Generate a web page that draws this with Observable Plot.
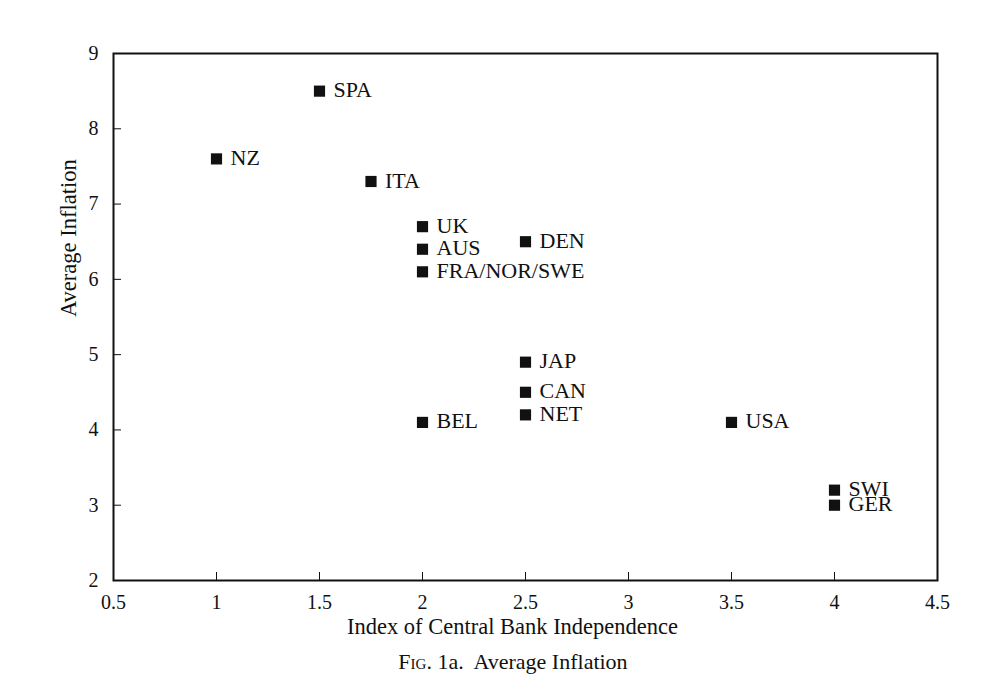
<!DOCTYPE html>
<html>
<head>
<meta charset="utf-8">
<script src="https://cdn.jsdelivr.net/npm/d3@7"></script>
<script src="https://cdn.jsdelivr.net/npm/@observablehq/plot@0.6"></script>
<style>
  body { margin: 0; background: #fff; }
  #chart { width: 1000px; }
  .caption { width: 1000px; text-align: center; font-family: "Liberation Serif", "Times New Roman", serif; font-size: 22px; color: #111; margin-top: 4px; padding-left: 26px; box-sizing: border-box; }
  .sc { font-variant: small-caps; }
</style>
</head>
<body>
<div id="chart"></div>
<div class="caption"><span class="sc">Fig</span>. 1a.&nbsp; Average Inflation</div>
<script>
const countries = ["NZ", "SPA", "ITA", "UK", "AUS", "FRA/NOR/SWE", "DEN", "JAP", "CAN", "NET", "BEL", "USA", "SWI", "GER"];
const independence = [1, 1.5, 1.75, 2, 2, 2, 2.5, 2.5, 2.5, 2.5, 2, 3.5, 4, 4];
const inflation = [7.6, 8.5, 7.3, 6.7, 6.4, 6.1, 6.5, 4.9, 4.5, 4.2, 4.1, 4.1, 3.2, 3.0];
const xTicks = [0.5, 1, 1.5, 2, 2.5, 3, 3.5, 4, 4.5];
const yTicks = [2, 3, 4, 5, 6, 7, 8, 9];

const data = countries.map((c, i) => ({country: c, x: independence[i], y: inflation[i]}));

const plot = Plot.plot({
  width: 1000,
  height: 645,
  marginLeft: 113,
  marginRight: 63,
  marginTop: 53,
  marginBottom: 65,
  style: {fontFamily: "'Liberation Serif', 'Times New Roman', serif", fontSize: "20px", color: "#111", background: "#fff"},
  x: {domain: [0.5, 4.5], ticks: xTicks, tickFormat: d => String(d)},
  y: {domain: [2, 9], ticks: yTicks, tickFormat: d => String(d)},
  marks: [
    Plot.axisX({ticks: xTicks, tickFormat: d => String(d), tickSize: 0, tickPadding: 14, label: null, fontSize: 20}),
    Plot.axisY({ticks: yTicks, tickFormat: d => String(d), tickSize: 0, tickPadding: 15, label: null, fontSize: 20}),
    Plot.tickX(xTicks, {x: d => d, insetTop: 519, stroke: "#111", strokeWidth: 1}),
    Plot.tickY(yTicks, {y: d => d, insetRight: 816, stroke: "#111", strokeWidth: 1}),
    Plot.frame({stroke: "#111", strokeWidth: 2}),
    Plot.dot(data, {x: "x", y: "y", symbol: "square", r: 6.3, fill: "#111", stroke: null}),
    Plot.text(data, {x: "x", y: "y", text: "country", textAnchor: "start", dx: 14, dy: -1, fontSize: 22, fill: "#111"}),
    Plot.text(["Average Inflation"], {frameAnchor: "left", rotate: -90, dx: -45, fontSize: 22.5, fill: "#111"}),
    Plot.text(["Index of Central Bank Independence"], {frameAnchor: "bottom", dx: -13, dy: 53, fontSize: 22.5, fill: "#111"})
  ]
});
document.getElementById("chart").appendChild(plot);
</script>
</body>
</html>
